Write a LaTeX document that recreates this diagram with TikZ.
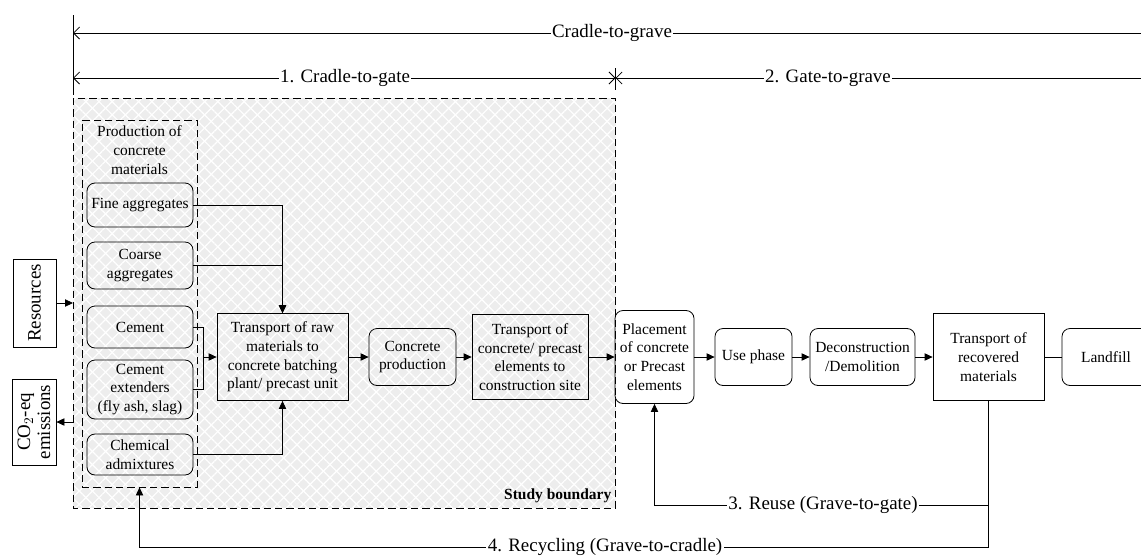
\documentclass[tikz,border=0pt]{standalone}
\usepackage{fontspec}
\setmainfont{Liberation Serif}
\usetikzlibrary{arrows.meta,patterns.meta}

\tikzset{
  flow/.style={-{Triangle[length=6pt,width=5.5pt]}},
  span/.style={{Straight Barb[length=4.5pt,width=9pt]}-},
  spanboth/.style={{Straight Barb[length=4.5pt,width=9pt]}-{Straight Barb[length=4.5pt,width=9pt]}},
  rbox/.style={draw, rounded corners=6pt, align=center, inner sep=0pt},
  sbox/.style={draw, align=center, inner sep=0pt},
  mat/.style={rbox, minimum width=79.5pt},
  big/.style={font=\fontsize{14.2}{15}\selectfont},
  lbl/.style={fill=white, inner sep=1pt, big},
}

\begin{document}
\begin{tikzpicture}[x=0.75pt,y=0.75pt,yscale=-1,xscale=1,line width=0.6pt,
  font=\fontsize{11.6}{14}\selectfont]
\useasboundingbox (0,0) rectangle (1141,557);

%Shape: Rectangle [study boundary]
\fill[black!7] (73,98) rectangle (615.5,508);
\fill[pattern={Lines[angle=45,distance=7pt,line width=0.9pt]},pattern color=white] (73,98) rectangle (615.5,508);
\fill[pattern={Lines[angle=-45,distance=7pt,line width=0.9pt]},pattern color=white] (73,98) rectangle (615.5,508);
\draw[dash pattern=on 5.5pt off 3pt] (73,98) rectangle (615.5,508);
\coordinate (sbNW) at (73,98);
\node[anchor=south east, inner sep=1pt, font=\fontsize{11.6}{13}\selectfont\bfseries] (sbtxt) at (613,505) {Study boundary};

%Straight Lines [life cycle spans]
\draw (73,15) -- (73,95);
\coordinate (cgL) at (73,33);
\coordinate (cgR) at (1150,33);
\draw[span] (cgL) -- (cgR);
\coordinate (gtL) at (73,78);
\coordinate (gtM) at (615.5,78);
\coordinate (gtR) at (1150,78);
\draw[spanboth] (gtL) -- (gtM);
\draw[span] (gtM) -- (gtR);
\draw (615.5,68) -- (615.5,90);
% Text Node
\node[lbl] (cgtxt) at (612,33) {Cradle-to-grave};
% Text Node
\node[lbl] (ctgtxt) at (345,78) {1. Cradle-to-gate};
% Text Node
\node[lbl] (gtgtxt) at (828,78) {2. Gate-to-grave};

%Shape: Rectangle [production of materials]
\node[draw, dash pattern=on 5.5pt off 3pt, minimum width=86.25pt, minimum height=275.25pt] (prod) at (139.5,303.5) {};
\node[align=center, inner sep=0pt] (prodtxt) at (139.5,150) {Production of\\concrete\\materials};

\node[mat, minimum height=33pt] (fine) at (140,205) {Fine aggregates};
\node[mat, minimum height=35.25pt] (coarse) at (140,265.5) {Coarse\\aggregates};
\node[mat, minimum height=31.5pt] (cement) at (140,327) {Cement};
\node[mat, minimum height=44.25pt] (ext) at (140,389.5) {Cement\\extenders\\(fly ash, slag)};
\node[mat, minimum height=30.75pt] (chem) at (140,454.5) {Chemical\\admixtures};

%Shape: Process boxes
\node[sbox, minimum width=98.25pt, minimum height=65.25pt] (raw) at (282.5,357) {Transport of raw\\materials to\\concrete batching\\plant/ precast unit};
\node[rbox, minimum width=65.25pt, minimum height=42.75pt] (conc) at (412.5,357) {Concrete\\production};
\node[sbox, minimum width=87pt, minimum height=63.75pt] (trc) at (530,357) {Transport of\\concrete/ precast\\elements to\\construction site};
\node[rbox, minimum width=59.25pt, minimum height=69.75pt] (place) at (654.5,357) {Placement\\of concrete\\or Precast\\elements};
\node[rbox, minimum width=57.75pt, minimum height=42.75pt] (use) at (753.5,357) {Use phase};
\node[rbox, minimum width=78.75pt, minimum height=42.75pt] (decon) at (862.5,357) {Deconstruction\\/Demolition};
\node[sbox, minimum width=83.25pt, minimum height=65.25pt] (rec) at (988.5,357) {Transport of\\recovered\\materials};
\node[rbox, minimum width=66pt, minimum height=42.75pt] (land) at (1106,357) {Landfill};

%Shape: Inputs and outputs
\node[sbox, big, rotate=90, minimum width=66pt, minimum height=32.25pt] (res) at (34.5,303) {Resources};
\node[sbox, big, rotate=90, minimum width=64.5pt, minimum height=33pt] (co2) at (34,422) {CO$_2$-eq\\emissions};

%Straight Lines [connectors]
\draw[flow] (res.south) -- (res.south -| sbNW);
\draw[flow] (co2.south -| sbNW) -- (co2.south);
\draw[flow] (fine.east) -| (raw.north);
\draw[flow] (coarse.east) -| (raw.north);
\draw[flow] (chem.east) -| (raw.south);
\coordinate (cjn) at (203,357);
\draw (cement.east) -| (cjn);
\draw (ext.east) -| (cjn);
\draw[flow] (cjn) -- (raw.west);
\draw[flow] (raw) -- (conc);
\draw[flow] (conc) -- (trc);
\draw[flow] (trc) -- (place);
\draw[flow] (place) -- (use);
\draw[flow] (use) -- (decon);
\draw[flow] (decon) -- (rec);
\draw (rec) -- (land);

%Straight Lines [loops]
\coordinate (reuseC) at (988.5,505);
\coordinate (recyC) at (988.5,547);
\draw[flow] (rec.south) -- (reuseC) -| (place.south);
\draw[flow] (rec.south) -- (recyC) -| (prod.south);
% Text Node
\node[lbl] (reusetxt) at (823,505) {3. Reuse (Grave-to-gate)};
% Text Node
\node[lbl, anchor=east] (recytxt) at (724,547) {4. Recycling (Grave-to-cradle)};

\end{tikzpicture}
\end{document}
